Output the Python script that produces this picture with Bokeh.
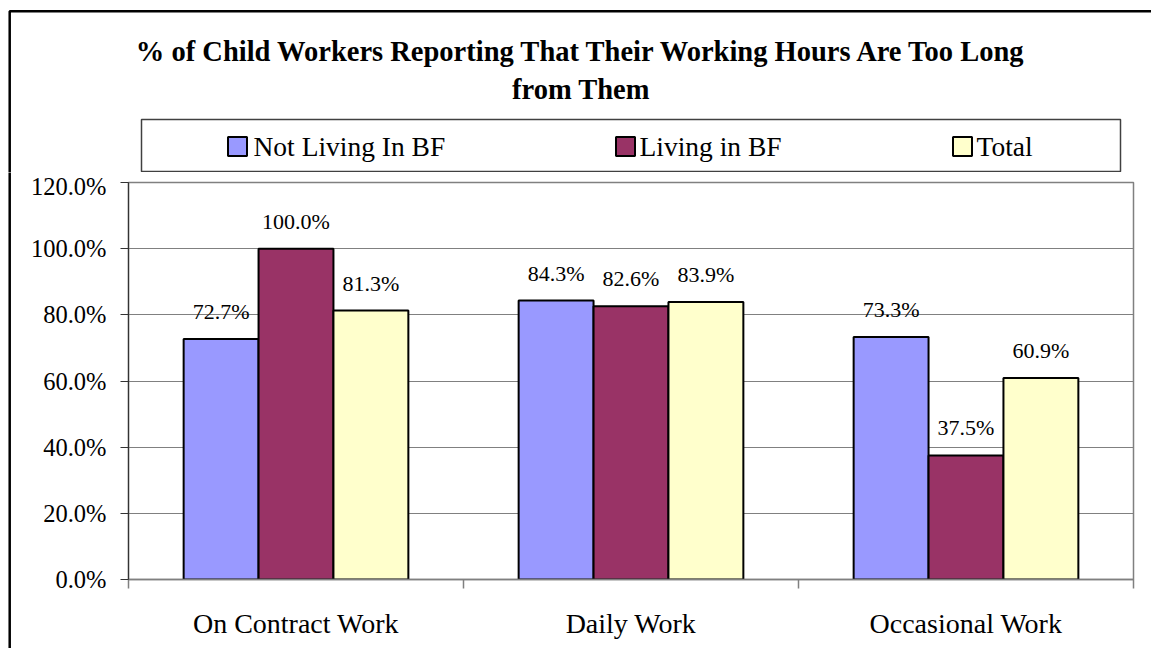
from bokeh.plotting import figure
from bokeh.layouts import column, row
from bokeh.models import (Range1d, FixedTicker, PrintfTickFormatter, ColumnDataSource)
from bokeh.core.properties import value
from bokeh.embed import file_html
from bokeh.resources import INLINE
import numpy as np

# ---------------- data ----------------
categories = ["On Contract Work", "Daily Work", "Occasional Work"]
series_names = ["Not Living In BF", "Living in BF", "Total"]
not_living_in_bf = [72.7, 84.3, 73.3]
living_in_bf = [100.0, 82.6, 37.5]
total = [81.3, 83.9, 60.9]
series_colors = ["#9999FF", "#993366", "#FFFFCC"]
y_ticks = [0, 20, 40, 60, 80, 100, 120]
title_lines = ["% of Child Workers Reporting That Their Working Hours Are Too Long",
               "from Them"]

FONT = "Liberation Serif"
PAGE_W, PAGE_H = 1151, 648
HEAD_H = 172
STRIP_W = 12


def blank_fig(w, h, yr):
    f = figure(width=w, height=h, x_range=Range1d(0, w), y_range=yr,
               output_backend="svg", toolbar_location=None,
               x_axis_type=None, y_axis_type=None, min_border=0)
    f.grid.visible = False
    f.outline_line_color = None
    f.background_fill_color = "white"
    f.border_fill_color = "white"
    f.frame_align = False
    return f


# ---------------- header: title + legend + border ----------------
head = blank_fig(PAGE_W, HEAD_H, Range1d(HEAD_H, 0))
head.line(x=[9.2, 9.2, PAGE_W + 10], y=[HEAD_H + 5, 10.8, 10.8],
          line_color="black", line_width=2.5)
head.text(x=[581.5, 580.5], y=[50.5, 88.5], text=title_lines, text_align="center",
          text_baseline="middle", text_font=value(FONT),
          text_font_style="bold", text_font_size="28.5px", text_color="black")
head.quad(left=[141], right=[1120], top=[119], bottom=[171], fill_color=None,
          line_color="#404040", line_width=1.5)
swatch_cx = [237, 625, 962]
text_left = [253, 639, 976]
head.rect(x=swatch_cx, y=[146] * 3, width=19, height=19, fill_color=series_colors,
          line_color="black", line_width=2)
head.text(x=text_left, y=[145.7] * 3, text=series_names, text_align="left",
          text_baseline="middle", text_font=value(FONT),
          text_font_size="27.5px", text_color="black")

# ---------------- left border strip ----------------
CH = PAGE_H - HEAD_H
strip = blank_fig(STRIP_W, CH, Range1d(0, CH))
strip.line(x=[9.2, 9.2], y=[-5, CH + 5], line_color="black", line_width=2.5)

# ---------------- chart ----------------
CW = PAGE_W - STRIP_W
FL, FR, FT, FB = 128 - STRIP_W, PAGE_W - 1133, 182 - HEAD_H, HEAD_H + CH - 579
p = figure(width=CW, height=CH, x_range=Range1d(0, len(categories)),
           y_range=Range1d(0, 120), output_backend="svg", toolbar_location=None,
           min_border_left=FL, min_border_right=FR, min_border_top=FT,
           min_border_bottom=FB)
p.frame_align = False
p.background_fill_color = "white"
p.border_fill_color = "white"
p.outline_line_color = "#808080"
p.outline_line_width = 1.5

xs = np.arange(len(categories)) + 0.5
bw = 0.2236
series = [not_living_in_bf, living_in_bf, total]
for i, (name, vals, col) in enumerate(zip(series_names, series, series_colors)):
    src = ColumnDataSource(dict(x=xs + (i - 1) * bw, top=vals,
                                label=[f"{v:.1f}%" for v in vals]))
    p.vbar(x="x", top="top", bottom=0, width=bw, source=src, fill_color=col,
           line_color="black", line_width=2)
    p.text(x="x", y="top", text="label", source=src, text_align="center",
           text_baseline="middle", y_offset=-27.5,
           text_font=value(FONT), text_font_size="22px", text_color="black")

# x axis
p.xaxis.ticker = FixedTicker(ticks=[float(x) for x in xs],
                             minor_ticks=list(range(len(categories) + 1)))
p.xaxis.major_label_overrides = {float(x): c for x, c in zip(xs, categories)}
p.xaxis.major_tick_line_color = None
p.xaxis.major_tick_out = 0
p.xaxis.major_tick_in = 0
p.xaxis.minor_tick_line_color = "#808080"
p.xaxis.minor_tick_line_width = 1.5
p.xaxis.minor_tick_out = 9
p.xaxis.minor_tick_in = 0
p.xaxis.axis_line_color = "#808080"
p.xaxis.axis_line_width = 1.5
p.xaxis.major_label_text_font = FONT
p.xaxis.major_label_text_font_size = "28px"
p.xaxis.major_label_text_color = "black"
p.xaxis.major_label_standoff = 19

# y axis
p.yaxis.ticker = FixedTicker(ticks=y_ticks)
p.yaxis.formatter = PrintfTickFormatter(format="%.1f%%")
p.yaxis.major_tick_out = 8
p.yaxis.major_tick_in = 0
p.yaxis.major_tick_line_color = "#333333"
p.yaxis.minor_tick_line_color = None
p.yaxis.axis_line_color = "#333333"
p.yaxis.axis_line_width = 1.2
p.yaxis.major_label_text_font = FONT
p.yaxis.major_label_text_font_size = "24.5px"
p.yaxis.major_label_text_color = "black"
p.yaxis.major_label_standoff = 14

p.xgrid.visible = False
p.ygrid.ticker = FixedTicker(ticks=y_ticks)
p.ygrid.grid_line_color = "#808080"
p.ygrid.grid_line_width = 1

layout = column(head, row(strip, p, spacing=0), spacing=0)
open("out.html", "w").write(file_html(layout, INLINE))
